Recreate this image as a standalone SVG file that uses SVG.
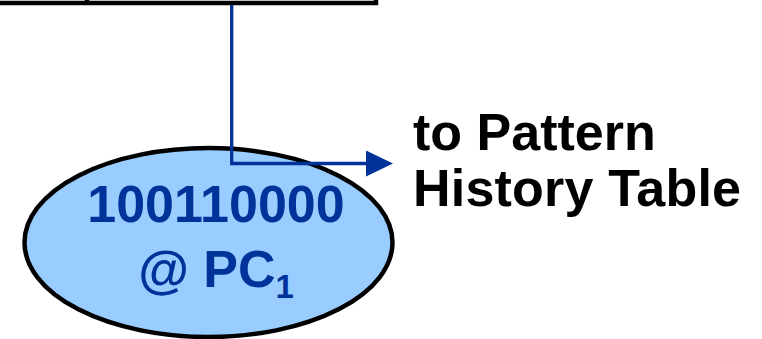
<svg xmlns="http://www.w3.org/2000/svg" width="762" height="339" viewBox="0 0 762 339">
  <style>
    .box { fill: none; stroke: #000; stroke-width: 4.5; }
    .wire { fill: none; stroke: #003399; stroke-width: 3.3; }
    .reg { fill: #99CCFF; stroke: #000; stroke-width: 4.5; }
    .val { font-family: "Liberation Sans", Arial, sans-serif; font-weight: bold; fill: #003399; text-anchor: middle; }
    .lbl { font-family: "Liberation Sans", Arial, sans-serif; font-weight: bold; fill: #000; font-size: 52px; }
  </style>
  <defs>
    <marker id="head" viewBox="0 0 27 26" refX="0" refY="13" markerWidth="27" markerHeight="26" markerUnits="userSpaceOnUse" orient="auto">
      <polygon points="0,0 27,13 0,26" fill="#003399"/>
    </marker>
  </defs>

  <!-- history register (top edge runs off the page) -->
  <g id="history-register">
    <rect class="box" x="-10" y="-30" width="386" height="33"/>
    <line class="box" x1="87" y1="-30" x2="87" y2="3"/>
  </g>

  <!-- branch history entry -->
  <g id="history-entry">
    <ellipse class="reg" cx="208.5" cy="242.5" rx="184" ry="94.5"/>
    <text class="val" x="216" y="222" font-size="52">100110000</text>
    <text class="val" x="216" y="287" font-size="52">@ PC<tspan font-size="33" dy="11">1</tspan></text>
  </g>

  <!-- connectors, drawn over the entry -->
  <g id="connectors">
    <polyline class="wire" points="231.7,5 231.7,163.5 366,163.5" marker-end="url(#head)"/>
  </g>

  <!-- destination label -->
  <g id="pht-label">
    <text class="lbl" x="413" y="150">to Pattern</text>
    <text class="lbl" x="413" y="206" textLength="328" lengthAdjust="spacing">History Table</text>
  </g>
</svg>
